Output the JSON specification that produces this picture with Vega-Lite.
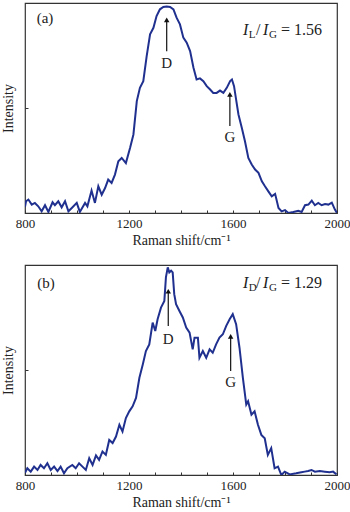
{
  "$schema": "https://vega.github.io/schema/vega-lite/v6.json",
  "padding": {"left": 0, "top": 2, "right": 0, "bottom": 0},
  "spacing": 16,
  "config": {
    "font": "Liberation Serif",
    "view": {"stroke": "#333333", "strokeWidth": 1.2},
    "axis": {
      "labelFont": "Liberation Serif", "titleFont": "Liberation Serif",
      "labelFontSize": 13, "titleFontSize": 14, "titleFontWeight": "normal",
      "labelColor": "#222222", "titleColor": "#222222",
      "grid": false, "domain": false, "tickColor": "#333333", "labelFlush": false
    },
    "text": {"font": "Liberation Serif", "color": "#222222"}
  },
  "datasets": {
    "spectra": [
      {"panel":"a","shift":800,"intensity":3},{"panel":"a","shift":804,"intensity":5.6},{"panel":"a","shift":813,"intensity":6.4},{"panel":"a","shift":826,"intensity":4.0},{"panel":"a","shift":838,"intensity":4.8},{"panel":"a","shift":851,"intensity":3.2},{"panel":"a","shift":864,"intensity":0.8},{"panel":"a","shift":877,"intensity":3.7},{"panel":"a","shift":890,"intensity":0.5},{"panel":"a","shift":906,"intensity":5.1},{"panel":"a","shift":915,"intensity":3.7},{"panel":"a","shift":928,"intensity":5.6},{"panel":"a","shift":941,"intensity":2.7},{"panel":"a","shift":954,"intensity":5.6},{"panel":"a","shift":967,"intensity":0.8},{"panel":"a","shift":980,"intensity":2.4},{"panel":"a","shift":999,"intensity":4.8},{"panel":"a","shift":1011,"intensity":0.5},{"panel":"a","shift":1031,"intensity":4.8},{"panel":"a","shift":1040,"intensity":3.2},{"panel":"a","shift":1056,"intensity":10.7},{"panel":"a","shift":1069,"intensity":4.8},{"panel":"a","shift":1082,"intensity":12.7},{"panel":"a","shift":1095,"intensity":8.7},{"panel":"a","shift":1108,"intensity":11.9},{"panel":"a","shift":1120,"intensity":15.9},{"panel":"a","shift":1133,"intensity":14.3},{"panel":"a","shift":1146,"intensity":18.3},{"panel":"a","shift":1159,"intensity":24.6},{"panel":"a","shift":1172,"intensity":26.2},{"panel":"a","shift":1188,"intensity":23.8},{"panel":"a","shift":1204,"intensity":31.0},{"panel":"a","shift":1217,"intensity":37.4},{"panel":"a","shift":1230,"intensity":53.3},{"panel":"a","shift":1242,"intensity":59.6},{"panel":"a","shift":1255,"intensity":62.8},{"panel":"a","shift":1268,"intensity":74.7},{"panel":"a","shift":1281,"intensity":85.1},{"panel":"a","shift":1294,"intensity":88.2},{"panel":"a","shift":1306,"intensity":93.8},{"panel":"a","shift":1319,"intensity":97.0},{"panel":"a","shift":1332,"intensity":98.1},{"panel":"a","shift":1345,"intensity":98.3},{"panel":"a","shift":1358,"intensity":98.1},{"panel":"a","shift":1371,"intensity":97.0},{"panel":"a","shift":1383,"intensity":93.0},{"panel":"a","shift":1396,"intensity":89.8},{"panel":"a","shift":1409,"intensity":83.5},{"panel":"a","shift":1422,"intensity":81.1},{"panel":"a","shift":1435,"intensity":77.1},{"panel":"a","shift":1448,"intensity":69.2},{"panel":"a","shift":1460,"intensity":63.6},{"panel":"a","shift":1473,"intensity":64.1},{"panel":"a","shift":1486,"intensity":62.8},{"panel":"a","shift":1499,"intensity":60.4},{"panel":"a","shift":1512,"intensity":58.8},{"panel":"a","shift":1524,"intensity":57.2},{"panel":"a","shift":1537,"intensity":57.2},{"panel":"a","shift":1550,"intensity":58.3},{"panel":"a","shift":1563,"intensity":57.2},{"panel":"a","shift":1576,"intensity":59.6},{"panel":"a","shift":1589,"intensity":62.8},{"panel":"a","shift":1596,"intensity":63.6},{"panel":"a","shift":1604,"intensity":60.4},{"panel":"a","shift":1612,"intensity":54.0},{"panel":"a","shift":1621,"intensity":46.9},{"panel":"a","shift":1634,"intensity":40.5},{"panel":"a","shift":1646,"intensity":34.2},{"panel":"a","shift":1659,"intensity":26.2},{"panel":"a","shift":1672,"intensity":23.1},{"panel":"a","shift":1685,"intensity":20.7},{"panel":"a","shift":1698,"intensity":19.1},{"panel":"a","shift":1711,"intensity":15.1},{"panel":"a","shift":1723,"intensity":12.7},{"panel":"a","shift":1736,"intensity":10.3},{"panel":"a","shift":1749,"intensity":7.9},{"panel":"a","shift":1762,"intensity":9.1},{"panel":"a","shift":1775,"intensity":2.4},{"panel":"a","shift":1787,"intensity":0.8},{"panel":"a","shift":1800,"intensity":1.4},{"panel":"a","shift":1813,"intensity":0},{"panel":"a","shift":1832,"intensity":0.5},{"panel":"a","shift":1851,"intensity":1.1},{"panel":"a","shift":1864,"intensity":0.5},{"panel":"a","shift":1877,"intensity":3.7},{"panel":"a","shift":1890,"intensity":4.0},{"panel":"a","shift":1903,"intensity":5.9},{"panel":"a","shift":1915,"intensity":3.7},{"panel":"a","shift":1928,"intensity":4.8},{"panel":"a","shift":1941,"intensity":3.7},{"panel":"a","shift":1954,"intensity":4.3},{"panel":"a","shift":1967,"intensity":4.0},{"panel":"a","shift":1980,"intensity":4.9},{"panel":"a","shift":1992,"intensity":1.6},{"panel":"a","shift":2000,"intensity":0},
      {"panel":"b","shift":800,"intensity":1},{"panel":"b","shift":809,"intensity":3.2},{"panel":"b","shift":822,"intensity":1.6},{"panel":"b","shift":835,"intensity":4.0},{"panel":"b","shift":848,"intensity":2.4},{"panel":"b","shift":860,"intensity":4.8},{"panel":"b","shift":873,"intensity":3.2},{"panel":"b","shift":886,"intensity":5.6},{"panel":"b","shift":899,"intensity":2.4},{"panel":"b","shift":912,"intensity":4.0},{"panel":"b","shift":925,"intensity":1.9},{"panel":"b","shift":937,"intensity":4.0},{"panel":"b","shift":950,"intensity":0.8},{"panel":"b","shift":963,"intensity":3.2},{"panel":"b","shift":982,"intensity":4.8},{"panel":"b","shift":995,"intensity":3.2},{"panel":"b","shift":1008,"intensity":5.6},{"panel":"b","shift":1021,"intensity":4.0},{"panel":"b","shift":1034,"intensity":2.4},{"panel":"b","shift":1047,"intensity":8.0},{"panel":"b","shift":1060,"intensity":4.8},{"panel":"b","shift":1073,"intensity":9.3},{"panel":"b","shift":1085,"intensity":7.2},{"panel":"b","shift":1098,"intensity":11.2},{"panel":"b","shift":1111,"intensity":9.6},{"panel":"b","shift":1124,"intensity":16.7},{"panel":"b","shift":1137,"intensity":15.2},{"panel":"b","shift":1150,"intensity":18.3},{"panel":"b","shift":1163,"intensity":23.9},{"panel":"b","shift":1175,"intensity":20.7},{"panel":"b","shift":1188,"intensity":27.1},{"panel":"b","shift":1201,"intensity":30.3},{"panel":"b","shift":1214,"intensity":32.7},{"panel":"b","shift":1227,"intensity":36.7},{"panel":"b","shift":1240,"intensity":46.3},{"panel":"b","shift":1253,"intensity":52.6},{"panel":"b","shift":1265,"intensity":59.0},{"panel":"b","shift":1278,"intensity":62.2},{"panel":"b","shift":1291,"intensity":72.6},{"panel":"b","shift":1301,"intensity":68.6},{"panel":"b","shift":1310,"intensity":74.2},{"panel":"b","shift":1323,"intensity":79.7},{"panel":"b","shift":1336,"intensity":82.9},{"panel":"b","shift":1342,"intensity":94.1},{"panel":"b","shift":1349,"intensity":98.9},{"panel":"b","shift":1355,"intensity":96.5},{"panel":"b","shift":1362,"intensity":97.3},{"panel":"b","shift":1368,"intensity":96.5},{"panel":"b","shift":1374,"intensity":86.1},{"panel":"b","shift":1381,"intensity":81.3},{"panel":"b","shift":1394,"intensity":78.1},{"panel":"b","shift":1407,"intensity":75.0},{"panel":"b","shift":1420,"intensity":70.2},{"panel":"b","shift":1433,"intensity":67.8},{"panel":"b","shift":1445,"intensity":59.8},{"panel":"b","shift":1452,"intensity":65.4},{"panel":"b","shift":1465,"intensity":65.4},{"panel":"b","shift":1471,"intensity":55.8},{"panel":"b","shift":1484,"intensity":59.0},{"panel":"b","shift":1497,"intensity":55.8},{"panel":"b","shift":1510,"intensity":59.8},{"panel":"b","shift":1522,"intensity":58.2},{"panel":"b","shift":1535,"intensity":62.2},{"panel":"b","shift":1548,"intensity":65.4},{"panel":"b","shift":1561,"intensity":67.0},{"panel":"b","shift":1574,"intensity":71.0},{"panel":"b","shift":1587,"intensity":74.2},{"panel":"b","shift":1599,"intensity":76.6},{"panel":"b","shift":1612,"intensity":71.8},{"panel":"b","shift":1625,"intensity":60.6},{"panel":"b","shift":1638,"intensity":46.3},{"panel":"b","shift":1651,"intensity":33.5},{"panel":"b","shift":1658,"intensity":35.1},{"panel":"b","shift":1671,"intensity":28.7},{"panel":"b","shift":1683,"intensity":30.3},{"panel":"b","shift":1696,"intensity":23.9},{"panel":"b","shift":1709,"intensity":19.1},{"panel":"b","shift":1722,"intensity":17.5},{"panel":"b","shift":1734,"intensity":9.6},{"panel":"b","shift":1747,"intensity":12.8},{"panel":"b","shift":1760,"intensity":3.2},{"panel":"b","shift":1773,"intensity":4.0},{"panel":"b","shift":1786,"intensity":0},{"panel":"b","shift":1799,"intensity":1.6},{"panel":"b","shift":1818,"intensity":0.3},{"panel":"b","shift":1843,"intensity":0.8},{"panel":"b","shift":1863,"intensity":1.3},{"panel":"b","shift":1876,"intensity":1.6},{"panel":"b","shift":1889,"intensity":1.9},{"panel":"b","shift":1902,"intensity":2.4},{"panel":"b","shift":1915,"intensity":1.6},{"panel":"b","shift":1934,"intensity":1.9},{"panel":"b","shift":1953,"intensity":1.6},{"panel":"b","shift":1972,"intensity":1.3},{"panel":"b","shift":1985,"intensity":1.6},{"panel":"b","shift":1998,"intensity":0.3}
    ],
    "arrows": [
      {"panel":"a","shift":1345,"tail":77,"head":92},
      {"panel":"a","shift":1588,"tail":41.4,"head":56.5},
      {"panel":"b","shift":1351,"tail":71,"head":87.5},
      {"panel":"b","shift":1591,"tail":49.5,"head":66}
    ],
    "tags": [
      {"panel":"a","shift":877,"intensity":93,"text":"(a)"},
      {"panel":"a","shift":1345,"intensity":71.4,"text":"D"},
      {"panel":"a","shift":1588,"intensity":36.2,"text":"G"},
      {"panel":"b","shift":881,"intensity":91.5,"text":"(b)"},
      {"panel":"b","shift":1351,"intensity":64.8,"text":"D"},
      {"panel":"b","shift":1591,"intensity":44.4,"text":"G"}
    ],
    "italic": [
      {"panel":"a","shift":1638,"intensity":84.8,"text":"I"},
      {"panel":"a","shift":1715,"intensity":84.8,"text":"I"},
      {"panel":"b","shift":1638,"intensity":89,"text":"I"},
      {"panel":"b","shift":1715,"intensity":89,"text":"I"}
    ],
    "subs": [
      {"panel":"a","shift":1661,"intensity":83.2,"text":"L"},
      {"panel":"a","shift":1738,"intensity":83.2,"text":"G"},
      {"panel":"b","shift":1661,"intensity":87.4,"text":"D"},
      {"panel":"b","shift":1738,"intensity":87.4,"text":"G"}
    ],
    "plain": [
      {"panel":"a","shift":1688,"intensity":84.8,"text":"/"},
      {"panel":"a","shift":1785,"intensity":84.8,"text":"= 1.56"},
      {"panel":"b","shift":1688,"intensity":89,"text":"/"},
      {"panel":"b","shift":1785,"intensity":89,"text":"= 1.29"}
    ]
  },
  "vconcat": [
    {
      "width": 312, "height": 210,
      "encoding": {
        "x": {"field": "shift", "type": "quantitative", "scale": {"domain": [800, 2000], "nice": false},
          "axis": {"title": "Raman shift/cm⁻¹", "format": "d", "values": [800,900,1000,1100,1200,1300,1400,1500,1600,1700,1800,1900,2000],
            "labelExpr": "datum.value % 400 === 0 ? datum.label : ''", "tickSize": -3, "labelPadding": 7, "titlePadding": 3}},
        "y": {"field": "intensity", "type": "quantitative", "scale": {"domain": [0, 100], "nice": false},
          "axis": {"title": "Intensity", "labels": false, "values": [50], "tickSize": -3, "titlePadding": 9}}
      },
      "layer": [
        {"data": {"name": "spectra"}, "transform": [{"filter": "datum.panel === 'a'"}],
         "mark": {"type": "line", "color": "#20308f", "strokeWidth": 2, "clip": true}},
        {"data": {"name": "arrows"}, "transform": [{"filter": "datum.panel === 'a'"}],
         "mark": {"type": "rule", "color": "#111111", "strokeWidth": 1.2},
         "encoding": {"y": {"field": "tail", "type": "quantitative"}, "y2": {"field": "head"}}},
        {"data": {"name": "arrows"}, "transform": [{"filter": "datum.panel === 'a'"}],
         "mark": {"type": "point", "shape": "triangle-up", "filled": true, "size": 30, "color": "#111111", "opacity": 1},
         "encoding": {"y": {"field": "head", "type": "quantitative"}}},
        {"data": {"name": "tags"}, "transform": [{"filter": "datum.panel === 'a'"}],
         "mark": {"type": "text", "fontSize": 15, "align": "center", "baseline": "middle"},
         "encoding": {"text": {"field": "text"}}},
        {"data": {"name": "italic"}, "transform": [{"filter": "datum.panel === 'a'"}],
         "mark": {"type": "text", "fontSize": 16, "fontStyle": "italic", "align": "left", "baseline": "alphabetic"},
         "encoding": {"text": {"field": "text"}}},
        {"data": {"name": "subs"}, "transform": [{"filter": "datum.panel === 'a'"}],
         "mark": {"type": "text", "fontSize": 11, "align": "left", "baseline": "alphabetic"},
         "encoding": {"text": {"field": "text"}}},
        {"data": {"name": "plain"}, "transform": [{"filter": "datum.panel === 'a'"}],
         "mark": {"type": "text", "fontSize": 16, "align": "left", "baseline": "alphabetic"},
         "encoding": {"text": {"field": "text"}}}
      ]
    },
    {
      "width": 312, "height": 210,
      "encoding": {
        "x": {"field": "shift", "type": "quantitative", "scale": {"domain": [800, 2000], "nice": false},
          "axis": {"title": "Raman shift/cm⁻¹", "format": "d", "values": [800,900,1000,1100,1200,1300,1400,1500,1600,1700,1800,1900,2000],
            "labelExpr": "datum.value % 400 === 0 ? datum.label : ''", "tickSize": -3, "labelPadding": 7, "titlePadding": 3}},
        "y": {"field": "intensity", "type": "quantitative", "scale": {"domain": [0, 100], "nice": false},
          "axis": {"title": "Intensity", "labels": false, "values": [50], "tickSize": -3, "titlePadding": 9}}
      },
      "layer": [
        {"data": {"name": "spectra"}, "transform": [{"filter": "datum.panel === 'b'"}],
         "mark": {"type": "line", "color": "#20308f", "strokeWidth": 2, "clip": true}},
        {"data": {"name": "arrows"}, "transform": [{"filter": "datum.panel === 'b'"}],
         "mark": {"type": "rule", "color": "#111111", "strokeWidth": 1.2},
         "encoding": {"y": {"field": "tail", "type": "quantitative"}, "y2": {"field": "head"}}},
        {"data": {"name": "arrows"}, "transform": [{"filter": "datum.panel === 'b'"}],
         "mark": {"type": "point", "shape": "triangle-up", "filled": true, "size": 30, "color": "#111111", "opacity": 1},
         "encoding": {"y": {"field": "head", "type": "quantitative"}}},
        {"data": {"name": "tags"}, "transform": [{"filter": "datum.panel === 'b'"}],
         "mark": {"type": "text", "fontSize": 15, "align": "center", "baseline": "middle"},
         "encoding": {"text": {"field": "text"}}},
        {"data": {"name": "italic"}, "transform": [{"filter": "datum.panel === 'b'"}],
         "mark": {"type": "text", "fontSize": 16, "fontStyle": "italic", "align": "left", "baseline": "alphabetic"},
         "encoding": {"text": {"field": "text"}}},
        {"data": {"name": "subs"}, "transform": [{"filter": "datum.panel === 'b'"}],
         "mark": {"type": "text", "fontSize": 11, "align": "left", "baseline": "alphabetic"},
         "encoding": {"text": {"field": "text"}}},
        {"data": {"name": "plain"}, "transform": [{"filter": "datum.panel === 'b'"}],
         "mark": {"type": "text", "fontSize": 16, "align": "left", "baseline": "alphabetic"},
         "encoding": {"text": {"field": "text"}}}
      ]
    }
  ]
}
